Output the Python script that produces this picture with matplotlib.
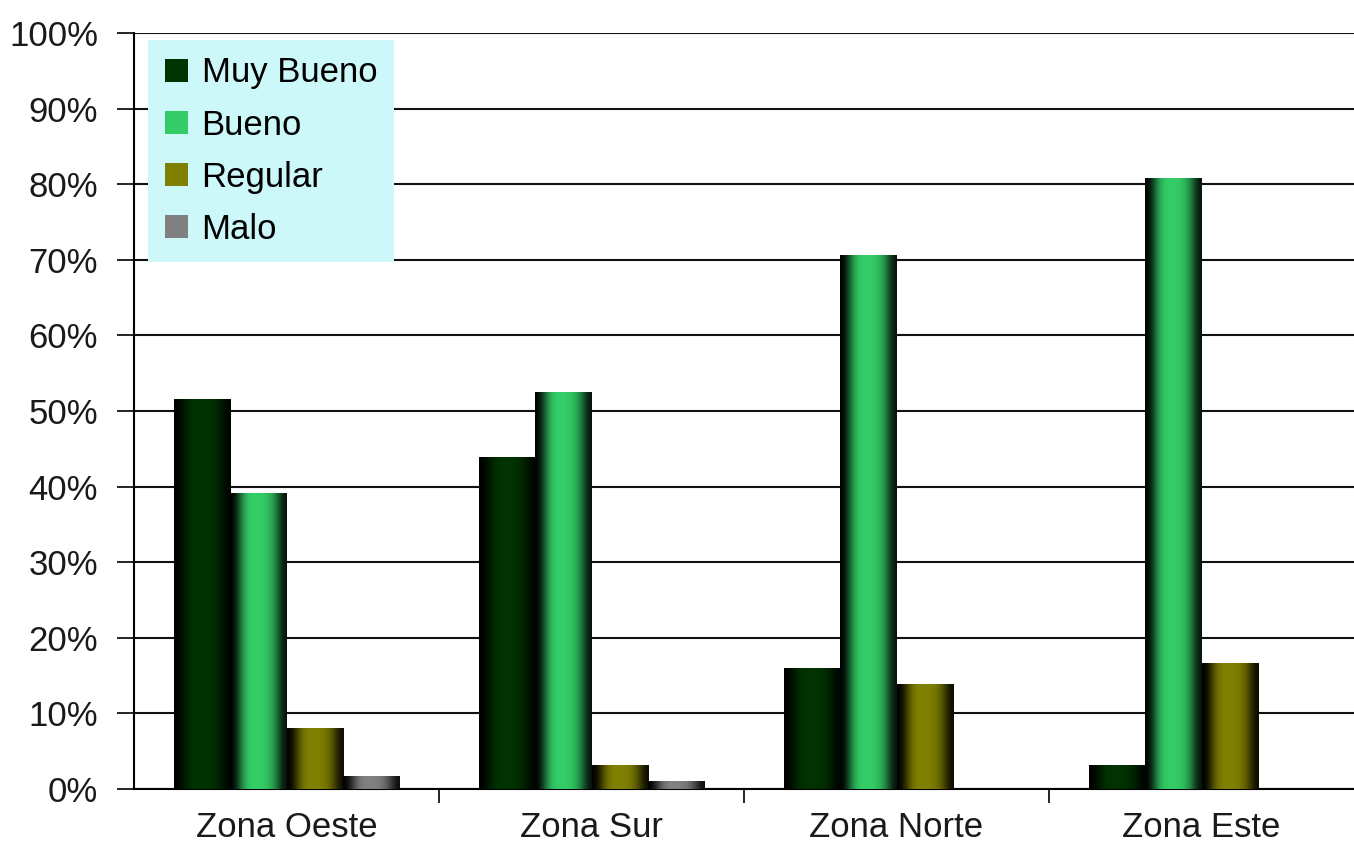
import numpy as np
import matplotlib.pyplot as plt
from matplotlib.colors import LinearSegmentedColormap
from matplotlib.patches import Patch

plt.rcParams['font.family'] = ['Liberation Sans', 'DejaVu Sans']

zonas = ['Zona Oeste', 'Zona Sur', 'Zona Norte', 'Zona Este']
series = ['Muy Bueno', 'Bueno', 'Regular', 'Malo']
muy_bueno = [51.6, 43.9, 16.0, 3.2]
bueno = [39.2, 52.5, 70.6, 80.8]
regular = [8.1, 3.2, 13.9, 16.7]
malo = [1.7, 1.1, 0.0, 0.0]
valores = [muy_bueno, bueno, regular, malo]
colores = ['#003300', '#33cc66', '#808000', '#808080']

fig = plt.figure(figsize=(13.54, 8.59), dpi=100)
ax = fig.add_axes([0.099, 0.0815, 0.901, 0.8801])

x = np.arange(len(zonas))
w = 0.184
# sombreado horizontal tipo cilindro
grad = np.array([0.0, 0.35, 0.8, 1.0, 1.0, 1.0, 0.95, 0.8, 0.45, 0.1])
for i, (vals, col) in enumerate(zip(valores, colores)):
    cmap = LinearSegmentedColormap.from_list('g' + str(i), ['#000000', col])
    pos = x + (i - 1.5) * w
    bars = ax.bar(pos, vals, width=w, color=col, edgecolor='none', zorder=3)
    for b in bars:
        if b.get_height() <= 0:
            continue
        x0, y0 = b.get_x(), b.get_y()
        im = ax.imshow(grad[np.newaxis, :], cmap=cmap, vmin=0, vmax=1,
                       extent=[x0, x0 + b.get_width(), y0, y0 + b.get_height()],
                       aspect='auto', interpolation='bicubic', zorder=3)
        im.set_clip_path(b)

ax.set_xlim(-0.5, 3.5)
ax.set_ylim(0, 100)
ax.set_yticks(np.arange(0, 101, 10))
ax.set_yticklabels([f'{v}%' for v in range(0, 101, 10)], fontsize=25, color='#1a1a1a')
ax.yaxis.grid(True, color='#111111', linewidth=1.5, zorder=0)
ax.set_axisbelow(True)
ax.tick_params(axis='y', length=12, width=1.2, pad=14)

ax.set_xticks(x)
ax.set_xticklabels(zonas, fontsize=25, color='#1a1a1a')
ax.tick_params(axis='x', length=0, pad=16)
ax.set_xticks([0.5, 1.5, 2.5], minor=True)
ax.tick_params(axis='x', which='minor', length=10, width=1.2, direction='out')

for s in ['top', 'right']:
    ax.spines[s].set_visible(False)
ax.spines['left'].set_linewidth(1.5)
ax.spines['bottom'].set_linewidth(1.5)

handles = [Patch(facecolor=c, edgecolor='none') for c in colores]
leg = ax.legend(handles, series, loc='upper left', bbox_to_anchor=(0.0115, 0.991),
                fontsize=25, frameon=True, fancybox=False, handlelength=0.66,
                handleheight=0.66, handletextpad=0.4, labelspacing=0.55,
                borderpad=0.48, borderaxespad=0.0)
leg.get_frame().set_facecolor('#ccf8fa')
leg.get_frame().set_edgecolor('none')
leg.get_frame().set_alpha(1)

fig.savefig('out.png', dpi=100)
